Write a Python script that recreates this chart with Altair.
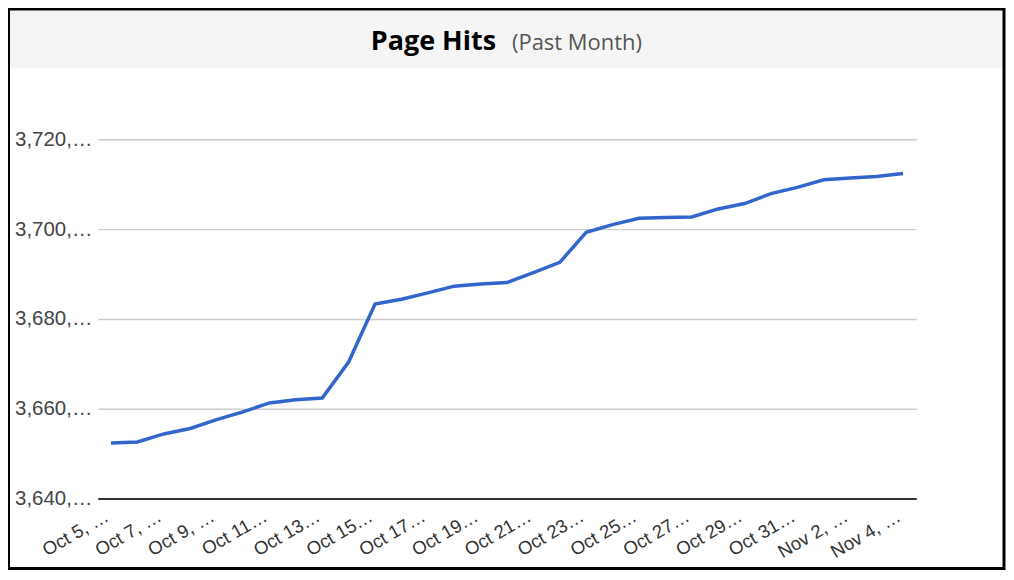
import altair as alt
import pandas as pd

days = ["Oct 5", "Oct 6", "Oct 7", "Oct 8", "Oct 9", "Oct 10", "Oct 11", "Oct 12",
        "Oct 13", "Oct 14", "Oct 15", "Oct 16", "Oct 17", "Oct 18", "Oct 19", "Oct 20",
        "Oct 21", "Oct 22", "Oct 23", "Oct 24", "Oct 25", "Oct 26", "Oct 27", "Oct 28",
        "Oct 29", "Oct 30", "Oct 31", "Nov 1", "Nov 2", "Nov 3", "Nov 4"]
hits = [3652400, 3652600, 3654400, 3655600, 3657600, 3659300, 3661300, 3662000,
        3662400, 3670400, 3683300, 3684400, 3685800, 3687300, 3687800, 3688100,
        3690300, 3692600, 3699300, 3701000, 3702400, 3702600, 3702700, 3704500,
        3705700, 3707900, 3709300, 3711000, 3711400, 3711700, 3712400]
y_ticks = [3640000, 3660000, 3680000, 3700000, 3720000]
x_ticks = days[::2]
title_main = "Page Hits"
title_sub = "(Past Month)"

df = pd.DataFrame({"day": days, "hits": hits})
one = alt.Data(values=[{}])

W, H = 820, 405

line = alt.Chart(df).mark_line(color="#3366cc", strokeWidth=3.5).encode(
    x=alt.X("day:O", sort=days, title=None,
            scale=alt.Scale(type="point", padding=0.5),
            axis=alt.Axis(values=x_ticks, labelAngle=-30, ticks=False,
                          domainColor="#333333", domainWidth=2,
                          labelFont="Liberation Sans", labelFontSize=18.5,
                          labelColor="#333333", labelPadding=8,
                          labelOffset=-9,
                          labelExpr="length(datum.label) < 6 ? datum.label + ', …' : datum.label + '…'")),
    y=alt.Y("hits:Q", title=None,
            scale=alt.Scale(domain=[3640000, 3730000], nice=False, zero=False),
            axis=alt.Axis(values=y_ticks, ticks=False, domain=False,
                          gridColor="#cccccc", gridWidth=1.5,
                          labelFont="Liberation Sans", labelFontSize=20.5,
                          labelColor="#444444", labelPadding=6,
                          labelExpr="slice(datum.label, 0, 6) + '…'")),
)

bar = alt.Chart(one).mark_rect(fill="#f5f5f5").encode(
    x=alt.value(-88), x2=alt.value(907), y=alt.value(-84), y2=alt.value(-26))

border = alt.Chart(one).mark_rect(fill=None, fillOpacity=0, stroke="black", strokeWidth=3).encode(
    x=alt.value(-89.5), x2=alt.value(908), y=alt.value(-85.5), y2=alt.value(475))

t1 = alt.Chart(one).mark_text(text=title_main, font="Open Sans", fontWeight="bold",
                              fontSize=27, color="#000000", align="right",
                              baseline="middle").encode(
    x=alt.value(399), y=alt.value(-52))
t2 = alt.Chart(one).mark_text(text=title_sub, font="Open Sans", fontSize=22,
                              color="#555555", align="left", baseline="middle").encode(
    x=alt.value(415), y=alt.value(-51))

chart = alt.layer(bar, line, t1, t2, border).properties(
    width=W, height=H,
    autosize=alt.AutoSizeParams(type="none"),
    padding={"left": 90, "top": 86, "right": 90, "bottom": 76},
).configure(background="white").configure_view(strokeWidth=0, stroke="transparent")

chart.save("out.html", embed_options={"renderer": "svg", "actions": False})
